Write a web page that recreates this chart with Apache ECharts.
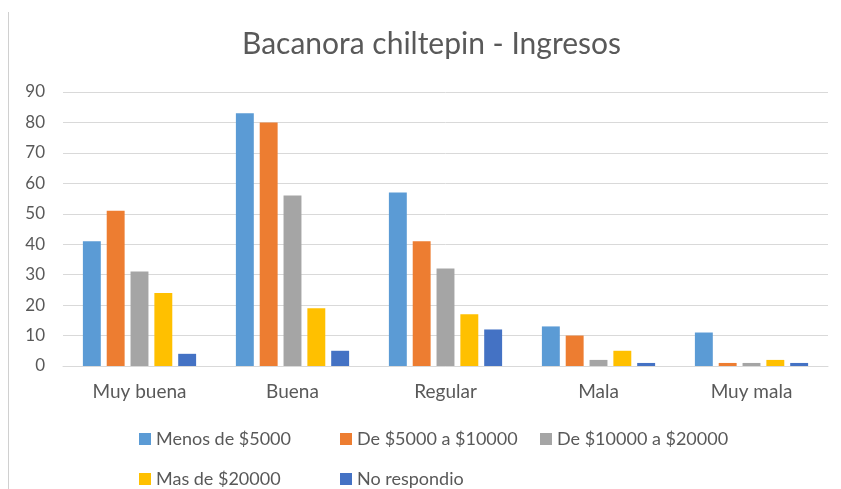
<!DOCTYPE html>
<html><head><meta charset="utf-8">
<script src="https://cdn.jsdelivr.net/npm/echarts@6/dist/echarts.min.js"></script>
<style>html,body{margin:0;padding:0;background:#fff}#c{width:841px;height:489px}</style>
</head><body><div id="c"></div>
<script>
var categories = ['Muy buena', 'Buena', 'Regular', 'Mala', 'Muy mala'];
var seriesNames = ['Menos de $5000', 'De $5000 a $10000', 'De $10000 a $20000', 'Mas de $20000', 'No respondio'];
var menos5000 = [41, 83, 57, 13, 11];
var de5000a10000 = [51, 80, 41, 10, 1];
var de10000a20000 = [31, 56, 32, 2, 1];
var mas20000 = [24, 19, 17, 5, 2];
var noRespondio = [4, 5, 12, 1, 1];
var colors = ['#5B9BD5', '#ED7D31', '#A5A5A5', '#FFC000', '#4472C4'];
var values = [menos5000, de5000a10000, de10000a20000, mas20000, noRespondio];
var FONT = 'Lato, "Open Sans", sans-serif';

var legendPos = [[139, 430], [340, 430], [540, 430], [139, 470], [340, 470]];
var legends = seriesNames.map(function (n, i) {
  return {
    data: [n], left: legendPos[i][0], top: legendPos[i][1], padding: 0,
    itemWidth: 12, itemHeight: 12, itemGap: 4, icon: 'rect',
    textStyle: { fontFamily: FONT, fontSize: 18, color: '#595959' }
  };
});

var chart = echarts.init(document.getElementById('c'));
chart.setOption({
  animation: false,
  color: colors,
  title: {
    text: 'Bacanora chiltepin - Ingresos', left: 242, top: 29, padding: 0,
    textStyle: { fontFamily: FONT, fontSize: 30, fontWeight: 'normal', color: '#595959' }
  },
  legend: legends,
  grid: { left: 63, right: 13, top: 92, bottom: 123 },
  xAxis: {
    type: 'category', data: categories,
    axisLine: { lineStyle: { color: '#D9D9D9', width: 1 } },
    axisTick: { show: false },
    axisLabel: { fontFamily: FONT, fontSize: 19, color: '#595959', margin: 16 }
  },
  yAxis: {
    type: 'value', min: 0, max: 90, interval: 10,
    axisLine: { show: false }, axisTick: { show: false },
    splitLine: { lineStyle: { color: '#D9D9D9', width: 1 } },
    axisLabel: { fontFamily: FONT, fontSize: 17, color: '#595959', margin: 18 }
  },
  graphic: [{
    type: 'line', shape: { x1: 8.5, y1: 12, x2: 8.5, y2: 489 },
    style: { stroke: '#D0D0D0', lineWidth: 1 }
  }],
  series: seriesNames.map(function (n, i) {
    return {
      name: n, type: 'bar', data: values[i],
      barGap: '33%', barCategoryGap: '26%',
      itemStyle: { color: colors[i] }
    };
  })
});
</script></body></html>
